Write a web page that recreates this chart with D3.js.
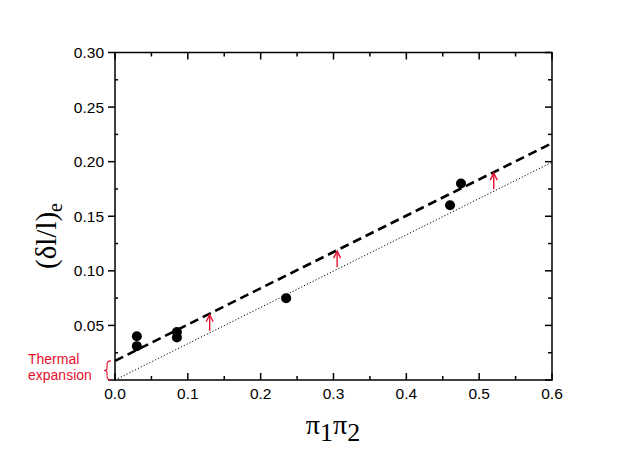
<!DOCTYPE html>
<html><head><meta charset="utf-8">
<script src="https://cdn.jsdelivr.net/npm/d3@7"></script>
<style>body{margin:0;background:#fff}svg{display:block}</style>
</head><body>
<svg id="c" width="642" height="455"></svg>
<script>
const xPts = [0.03, 0.03, 0.085, 0.085, 0.235, 0.46, 0.475];
const yPts = [0.040, 0.031, 0.044, 0.039, 0.075, 0.160, 0.180];
const dashedLine = [[0, 0.0175], [0.6, 0.217]];
const dottedLine = [[0, 0.0], [0.6, 0.1995]];
const arrowX = [0.13, 0.305, 0.52];
const xTicks = [0, 0.1, 0.2, 0.3, 0.4, 0.5, 0.6];
const yTicks = [0.05, 0.10, 0.15, 0.20, 0.25, 0.30];
const annotation = ["Thermal", "expansion"];

const svg = d3.select("#c");
const L = 115, R = 552, T = 52.5, B = 380;
const x = d3.scaleLinear().domain([0, 0.6]).range([L, R]);
const y = d3.scaleLinear().domain([0, 0.30]).range([B, T]);
const red = "#e4102e";

svg.append("rect").attr("x", L).attr("y", T).attr("width", R - L).attr("height", B - T)
  .attr("fill", "none").attr("stroke", "#000").attr("stroke-width", 1.5);

const minorX = d3.range(0.05, 0.6, 0.1);
const minorY = d3.range(0.025, 0.3, 0.05);
const tk = svg.append("g").attr("stroke", "#000").attr("stroke-width", 1.5);
xTicks.forEach(v => {
  tk.append("line").attr("x1", x(v)).attr("x2", x(v)).attr("y1", B).attr("y2", B - 7);
  tk.append("line").attr("x1", x(v)).attr("x2", x(v)).attr("y1", T).attr("y2", T + 7);
});
minorX.forEach(v => {
  tk.append("line").attr("x1", x(v)).attr("x2", x(v)).attr("y1", B).attr("y2", B - 4);
  tk.append("line").attr("x1", x(v)).attr("x2", x(v)).attr("y1", T).attr("y2", T + 4);
});
yTicks.concat([0]).forEach(v => {
  tk.append("line").attr("x1", L).attr("x2", L - 7).attr("y1", y(v)).attr("y2", y(v));
  tk.append("line").attr("x1", R).attr("x2", R - 7).attr("y1", y(v)).attr("y2", y(v));
});
minorY.forEach(v => {
  tk.append("line").attr("x1", L).attr("x2", L + 3).attr("y1", y(v)).attr("y2", y(v));
  tk.append("line").attr("x1", R).attr("x2", R - 4).attr("y1", y(v)).attr("y2", y(v));
});

const lf = "'Liberation Sans', Arial, sans-serif";
svg.append("g").selectAll("text").data(xTicks).join("text")
  .attr("x", d => x(d)).attr("y", 399).attr("text-anchor", "middle")
  .attr("font-family", lf).attr("font-size", 15.5).text(d => d3.format(".1f")(d));
svg.append("g").selectAll("text").data(yTicks).join("text")
  .attr("x", 104).attr("y", d => y(d) + 5.5).attr("text-anchor", "end")
  .attr("font-family", lf).attr("font-size", 15.5).text(d => d3.format(".2f")(d));

const xt = svg.append("text").attr("x", 333).attr("y", 434).attr("text-anchor", "middle")
  .attr("font-family", "'Liberation Serif', 'Times New Roman', serif").attr("font-size", 28);
xt.append("tspan").text("π");
xt.append("tspan").attr("dy", 7).attr("font-size", 26).text("1");
xt.append("tspan").attr("dy", -7).text("π");
xt.append("tspan").attr("dy", 7).attr("font-size", 26).text("2");

const yt = svg.append("text").attr("transform", "translate(56,236) rotate(-90)")
  .attr("text-anchor", "middle")
  .attr("font-family", "'Liberation Serif', 'Times New Roman', serif").attr("font-size", 29);
yt.append("tspan").text("(δl/l)");
yt.append("tspan").attr("dy", 6).attr("font-size", 20).text("e");

const line = d3.line().x(d => x(d[0])).y(d => y(d[1]));
svg.append("path").attr("d", line(dottedLine)).attr("fill", "none")
  .attr("stroke", "#000").attr("stroke-width", 1).attr("stroke-dasharray", "1.2,2");
svg.append("path").attr("d", line(dashedLine)).attr("fill", "none")
  .attr("stroke", "#000").attr("stroke-width", 2.6).attr("stroke-dasharray", "9,5");

svg.append("g").selectAll("circle").data(xPts).join("circle")
  .attr("cx", d => x(d)).attr("cy", (d, i) => y(yPts[i])).attr("r", 5).attr("fill", "#000");

const lerp = (ln, v) => ln[0][1] + (ln[1][1] - ln[0][1]) * (v - ln[0][0]) / (ln[1][0] - ln[0][0]);
const ag = svg.append("g").attr("stroke", red).attr("stroke-width", 1.4).attr("fill", "none");
arrowX.forEach(v => {
  const x0 = x(v), y0 = y(lerp(dottedLine, v)) - 2, y1 = y(lerp(dashedLine, v)) + 1;
  ag.append("line").attr("x1", x0).attr("x2", x0).attr("y1", y0).attr("y2", y1);
  ag.append("path").attr("d", `M${x0 - 3.5},${y1 + 7} L${x0},${y1} L${x0 + 3.5},${y1 + 7}`);
});

const by0 = y(dashedLine[0][1]), by1 = y(0), bx = 107, bm = (by0 + by1) / 2;
svg.append("path").attr("fill", "none").attr("stroke", red).attr("stroke-width", 1.1)
  .attr("d", `M${bx + 4},${by0} Q${bx},${by0} ${bx},${by0 + 4} L${bx},${bm - 2} Q${bx},${bm} ${bx - 3},${bm} Q${bx},${bm} ${bx},${bm + 2} L${bx},${by1 - 4} Q${bx},${by1} ${bx + 4},${by1}`);

svg.append("g").selectAll("text").data(annotation).join("text")
  .attr("x", 28).attr("y", (d, i) => 364 + i * 15.8)
  .attr("font-family", lf).attr("font-size", 14)
  .attr("fill", red).text(d => d);
</script>
</body></html>
